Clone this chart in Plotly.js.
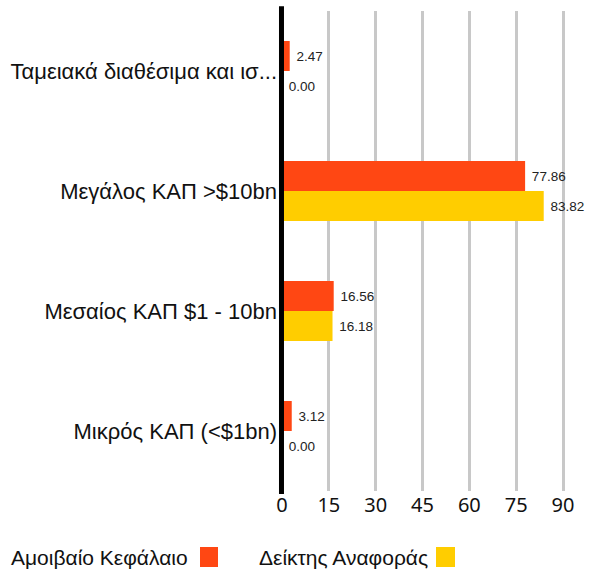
<!DOCTYPE html>
<html>
<head>
<meta charset="utf-8">
<script src="https://cdn.plot.ly/plotly-3.0.1.min.js"></script>
<style>html,body{margin:0;padding:0;background:#fff;}#chart{width:603px;height:574px;}</style>
</head>
<body>
<div id="chart"></div>
<script>
const categories = ["Ταμειακά διαθέσιμα και ισ...", "Μεγάλος ΚΑΠ >$10bn", "Μεσαίος ΚΑΠ $1 - 10bn", "Μικρός ΚΑΠ (<$1bn)"];
const fundValues = [2.47, 77.86, 16.56, 3.12];
const benchValues = [0.00, 83.82, 16.18, 0.00];
const seriesNames = ["Αμοιβαίο Κεφάλαιο", "Δείκτης Αναφοράς"];
const tickValues = [0, 15, 30, 45, 60, 75, 90];

const colors = ["#FF4713", "#FFCD00"];
const fmt = v => " " + v.toFixed(2);

const traces = [fundValues, benchValues].map((vals, i) => ({
  type: "bar",
  orientation: "h",
  name: seriesNames[i],
  y: categories,
  x: vals,
  marker: {color: colors[i]},
  text: vals.map(fmt),
  textposition: "outside",
  cliponaxis: false,
  textfont: {family: "Liberation Sans, Arial, sans-serif", size: 13.5, color: "#222"},
  hoverinfo: "x+y"
}));

const legendFont = {family: "Liberation Sans, Arial, sans-serif", size: 21, color: "#111"};
const layout = {
  width: 603, height: 574,
  margin: {l: 282, r: 20, t: 11, b: 83},
  paper_bgcolor: "#fff", plot_bgcolor: "#fff",
  barmode: "group", bargap: 0.5, bargroupgap: 0,
  showlegend: false,
  xaxis: {
    range: [0, 96.4], tickvals: tickValues, ticktext: tickValues.map(String),
    showgrid: true, gridcolor: "#c8c8c8", gridwidth: 3,
    zeroline: false, showline: false, ticks: "",
    tickfont: {family: "Noto Sans, sans-serif", size: 20, color: "#111"}
  },
  yaxis: {
    type: "category", autorange: "reversed",
    showgrid: false, zeroline: false, showline: false, ticks: "",
    ticklabelstandoff: 4,
    tickfont: {family: "Liberation Sans, Arial, sans-serif", size: 22, color: "#111"}
  },
  shapes: [
    {type: "line", xref: "paper", yref: "paper", x0: -0.0017, x1: -0.0017, y0: -0.006, y1: 1.01, line: {color: "#000", width: 5}},
    {type: "rect", xref: "paper", yref: "paper", x0: -0.2724, x1: -0.2126, y0: -0.1167, y1: -0.1583, fillcolor: colors[0], line: {width: 0}},
    {type: "rect", xref: "paper", yref: "paper", x0: 0.5116, x1: 0.5748, y0: -0.1167, y1: -0.1583, fillcolor: colors[1], line: {width: 0}}
  ],
  annotations: [
    {xref: "paper", yref: "paper", x: -0.3056, y: -0.1375, xanchor: "right", yanchor: "middle", showarrow: false, text: seriesNames[0], font: legendFont},
    {xref: "paper", yref: "paper", x: 0.4917, y: -0.1375, xanchor: "right", yanchor: "middle", showarrow: false, text: seriesNames[1], font: legendFont}
  ]
};

Plotly.newPlot("chart", traces, layout, {displayModeBar: false, responsive: false});
</script>
</body>
</html>
